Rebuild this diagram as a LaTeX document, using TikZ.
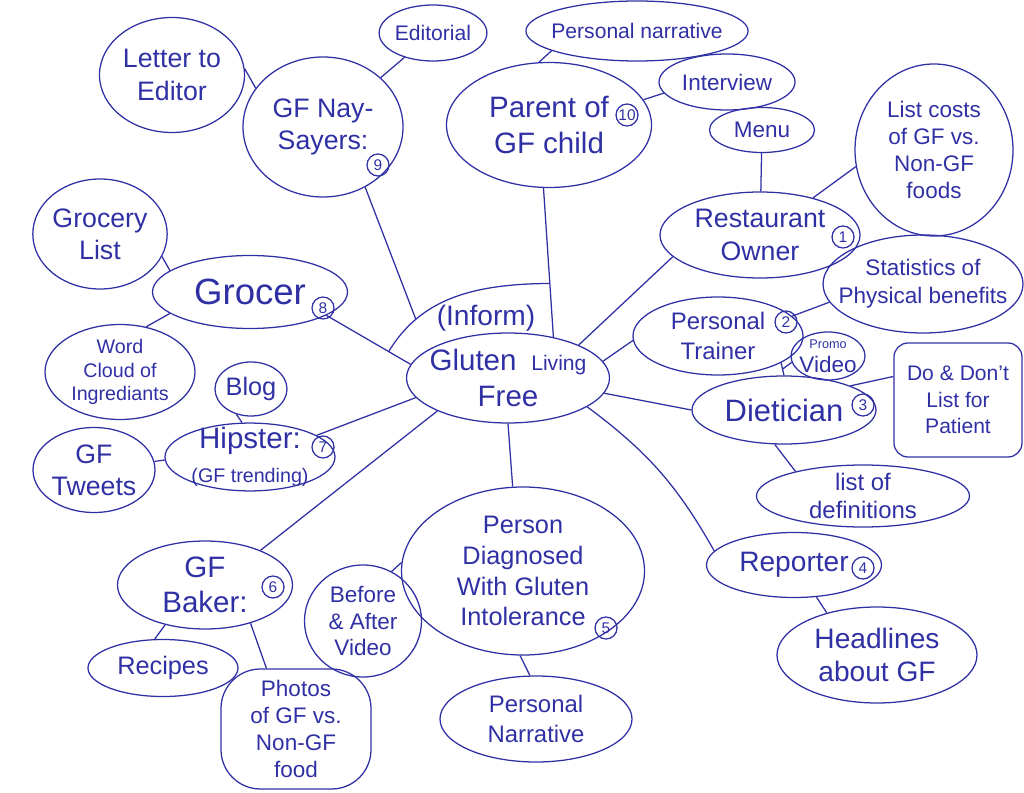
\documentclass[tikz,border=0pt]{standalone}
\usepackage{fontspec}
\setmainfont{Liberation Sans}
\usepackage{tikz}
\usetikzlibrary{shapes.geometric}
\definecolor{ink}{RGB}{48,48,165}

\begin{document}
\begin{tikzpicture}[x=0.025cm, y=-0.025cm, line width=0.9pt, color=ink,
  bubble/.style={draw, ellipse, inner sep=0pt, align=center},
  blob/.style={draw, rectangle, rounded corners=16pt, inner sep=0pt, align=center},
  numc/.style={draw, circle, inner sep=0pt, minimum size=0.55cm, font=\fontsize{11}{12}\selectfont},
  wh/.style 2 args={minimum width=#1*0.025cm, minimum height=#2*0.025cm},
  fnt/.style 2 args={font=\fontsize{#1}{#2}\selectfont}]
\useasboundingbox (0,0) rectangle (1024,793);
% hub in the middle, audiences round it, products on the outside
\node[bubble, wh={203}{90}, fnt={21}{25}, inner xsep=-8pt] (glf) at (508,378) {Gluten\enspace{\fontsize{15}{17}\selectfont Living}\\Free};
\node[fnt={20}{24}] (inform) at (486,318) {(Inform)};
% top: parent, nay-sayers
\node[bubble, wh={205}{125}, fnt={21}{25}] (parent) at (549,125) {Parent of\\GF child};
\node[bubble, wh={222}{60}, fnt={15}{18}, inner xsep=-5pt] (narrT) at (637,31) {Personal narrative};
\node[bubble, wh={136}{56}, fnt={16}{19}] (interv) at (727,82) {Interview};
\node[bubble, wh={160}{140}, fnt={19}{23}] (nay) at (323,127) {GF Nay-\\Sayers:};
\node[bubble, wh={107}{56}, fnt={15}{18}] (edit) at (433,33) {Editorial};
\node[bubble, wh={145}{115}, fnt={19}{23}] (letter) at (172,75) {Letter to\\Editor};
% left: grocer, hipster, baker
\node[bubble, wh={195}{73}, fnt={26}{30}] (gro) at (250,292) {Grocer};
\node[bubble, wh={125}{110}, fnt={19}{23}] (grolist) at (100,234) {Grocery\\List};
\node[bubble, wh={150}{95}, fnt={14}{17}, inner sep=-2pt] (cloud) at (120,372) {Word\\Cloud of\\Ingrediants};
\node[bubble, wh={170}{66}, fnt={21}{24}, inner ysep=-4pt] (hip) at (250,457) {Hipster:\\{\fontsize{14}{17}\selectfont (GF trending)}};
\node[bubble, wh={72}{54}, fnt={18}{22}] (blog) at (251,389) {Blog};
\node[bubble, wh={122}{85}, fnt={19}{23}] (tweets) at (94,470) {GF\\Tweets};
\node[bubble, wh={175}{88}, fnt={21}{25}] (baker) at (205,585) {GF\\Baker:};
\node[bubble, wh={150}{57}, fnt={18}{22}] (recipes) at (163,668) {Recipes};
\node[blob, wh={150}{120}, fnt={16}{19}, rounded corners=28pt] (photos) at (296,729) {Photos\\of GF vs.\\Non-GF\\food};
% bottom: person diagnosed
\node[bubble, wh={243}{168}, fnt={18}{22}] (person) at (523,571) {Person\\Diagnosed\\With Gluten\\Intolerance};
\node[bubble, wh={117}{112}, fnt={16}{19}] (before) at (363,621) {Before\\\& After\\Video};
\node[bubble, wh={192}{86}, fnt={17}{21}] (narrB) at (536,719) {Personal\\Narrative};
% right: restaurant, trainer, dietician, reporter
\node[bubble, wh={200}{86}, fnt={19}{24}] (rest) at (760,235) {Restaurant\\Owner};
\node[bubble, wh={105}{45}, fnt={16}{19}] (menu) at (762,130) {Menu};
\node[bubble, wh={158}{172}, fnt={16}{19}] (costs) at (934,150) {List costs\\of GF vs.\\Non-GF\\foods};
\node[bubble, wh={200}{98}, fnt={16}{20}, inner xsep=-14pt] (stats) at (923,284) {Statistics of\\Physical benefits};
\node[bubble, wh={170}{78}, fnt={17}{21}, inner ysep=-3pt] (trainer) at (718,336) {Personal\\Trainer};
\node[bubble, wh={74}{48}, fnt={16}{17}, inner sep=-2pt] (promo) at (828,356) {{\fontsize{9}{10}\selectfont Promo}\\Video};
\node[bubble, wh={184}{68}, fnt={22}{26}] (diet) at (784,410) {Dietician};
\node[blob, wh={128}{114}, fnt={15}{19}, rounded corners=10pt] (dodont) at (958,400) {Do \& Don't\\List for\\Patient};
\node[bubble, wh={213}{62}, fnt={17}{20}, inner ysep=-5pt] (defs) at (863,496) {list of\\definitions};
\node[bubble, wh={175}{65}, fnt={20}{24}] (rep) at (794,565) {Reporter};
\node[bubble, wh={200}{96}, fnt={20}{24}] (head) at (877,655) {Headlines\\about GF};
% circled order numbers
\foreach \n/\x/\y in {1/843/237, 2/786/322, 3/863/405, 4/863/568, 5/606/628,
                      6/273/587, 7/323/447, 8/323/308, 9/378/165, 10/627/115}
  \node[numc] (n\n) at (\x,\y) {\n};
% spokes from the hub
\foreach \a/\b in {glf.10/trainer.183, glf.25/rest.194, glf.351/diet.180,
                   glf.270/person.97, glf.205/baker.32, glf.192/hip.18}
  \draw (\a) -- (\b);
\draw (glf.340) to[bend left=12] (rep.170);
\draw (gro.343) -- coordinate[pos=0.74] (inf-l) (glf.172);
\draw (parent.265) -- coordinate[pos=0.64] (inf-r) (glf.42);
% (Inform) bracket
\draw (inf-l) .. controls (420,300) and (470,284) .. (inf-r) coordinate[pos=0.25] (inf-n);
\draw (nay.305) -- (inf-n);
% outer ring
\foreach \a/\b in {narrT.193/parent.99, parent.15/interv.190, nay/edit, letter.5/nay.150,
                   grolist.340/gro.165, cloud.60/gro.195, blog.240/hip.103, tweets/hip.182,
                   baker.225/recipes.106, baker.320/photos.116, before.60/person.176,
                   person.268/narrB.98, menu/rest, rest.35/costs.192, trainer.15/stats.191,
                   diet.20/dodont.160, diet.255/defs.160, rep.305/head.140}
  \draw (\a) -- (\b);
\draw (trainer.337) -- coordinate[pos=0.5] (tr-x) (diet.90);
\draw (tr-x) -- (promo.190);
\end{tikzpicture}
\end{document}
